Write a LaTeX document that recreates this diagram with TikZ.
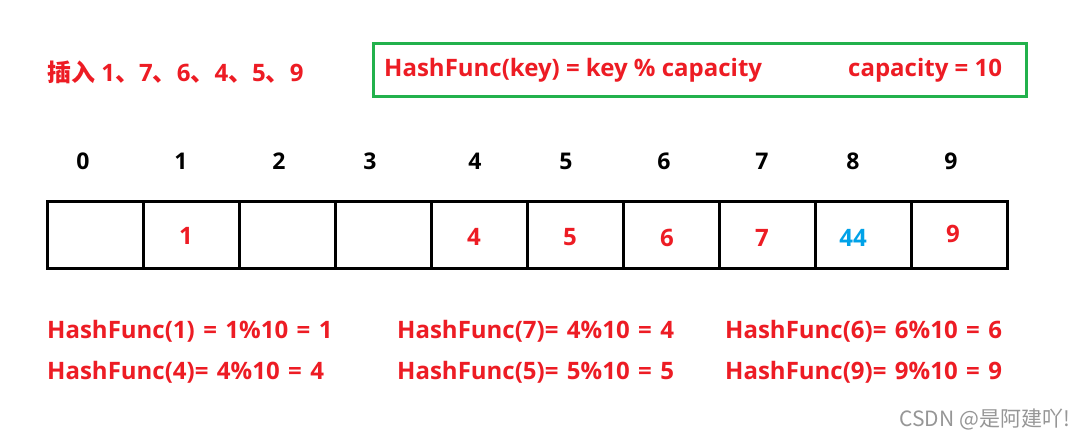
\documentclass[tikz,border=0pt]{standalone}
\usepackage{fontspec}
\setmainfont{Open Sans}
\newfontfamily\cjk{Noto Sans CJK SC}
\definecolor{hred}{RGB}{237,28,36}
\definecolor{hgreen}{RGB}{34,177,76}
\definecolor{hblue}{RGB}{0,162,232}
\definecolor{wgray}{RGB}{150,150,150}
\newcommand{\widespaces}{\spaceskip=8.5pt\relax}
\begin{document}
\begin{tikzpicture}[x=1pt,y=-1pt,
  redtxt/.style={text=hred,font=\fontsize{24}{26}\selectfont\bfseries,inner sep=0pt},
  idx/.style={text=black,font=\fontsize{23}{25}\selectfont\bfseries,inner sep=0pt},
  cell/.style={draw=black,line width=3pt,minimum width=96pt,minimum height=67pt,inner sep=0pt,anchor=north west},
  line/.style={redtxt,anchor=west},
  calc/.style={line,font={\fontsize{24}{26}\selectfont\bfseries\widespaces}}]
\useasboundingbox (0,0) rectangle (1084,439);
\fill[white] (0,0) rectangle (1084,439);
% title
\node[line] (title) at (47,72) {{\cjk\bfseries 插入} 1{\cjk 、}7{\cjk 、}6{\cjk 、}4{\cjk 、}5{\cjk 、}9};
% formula box
\node[draw=hgreen,line width=2.5pt,minimum width=653pt,minimum height=53pt,anchor=north west,inner sep=0pt] (fbox) at (372,42) {};
\node[line] (f1) at (384,70) {HashFunc(key) = key \% capacity};
\node[line] (f2) at (848,70) {capacity = 10};
% indices
\foreach \i/\x in {0/83,1/181,2/279,3/370,4/475,5/566,6/664,7/762,8/853,9/951}
  \node[idx] (i\i) at (\x,161) {\i};
% cells
\foreach \i/\x in {0/46,1/142,2/238,3/334,4/430,5/526,6/622,7/718,8/814,9/910}
  \node[cell] (c\i) at (\x,199.5) {};
\node[redtxt] (v1) at (186,236) {1};
\node[redtxt] (v4) at (474,237) {4};
\node[redtxt] (v5) at (570,237) {5};
\node[redtxt] (v6) at (667,238) {6};
\node[redtxt] (v7) at (762,238) {7};
\node[redtxt,text=hblue] (v8) at (853,238) {44};
\node[redtxt] (v9) at (953,234) {9};
% computations
\node[calc] (h1) at (47,331) {HashFunc(1) = 1\%10 = 1};
\node[calc] (h4) at (47,372) {HashFunc(4)= 4\%10 = 4};
\node[calc] (h7) at (397,331) {HashFunc(7)= 4\%10 = 4};
\node[calc] (h5) at (397,372) {HashFunc(5)= 5\%10 = 5};
\node[calc] (h6) at (725,331) {HashFunc(6)= 6\%10 = 6};
\node[calc] (h9) at (725,372) {HashFunc(9)= 9\%10 = 9};
% watermark
\node[anchor=east,inner sep=0pt,text=wgray,font=\cjk\fontsize{21}{23}\selectfont] (wm) at (1070,419) {CSDN @是阿建吖!};
\end{tikzpicture}
\end{document}
